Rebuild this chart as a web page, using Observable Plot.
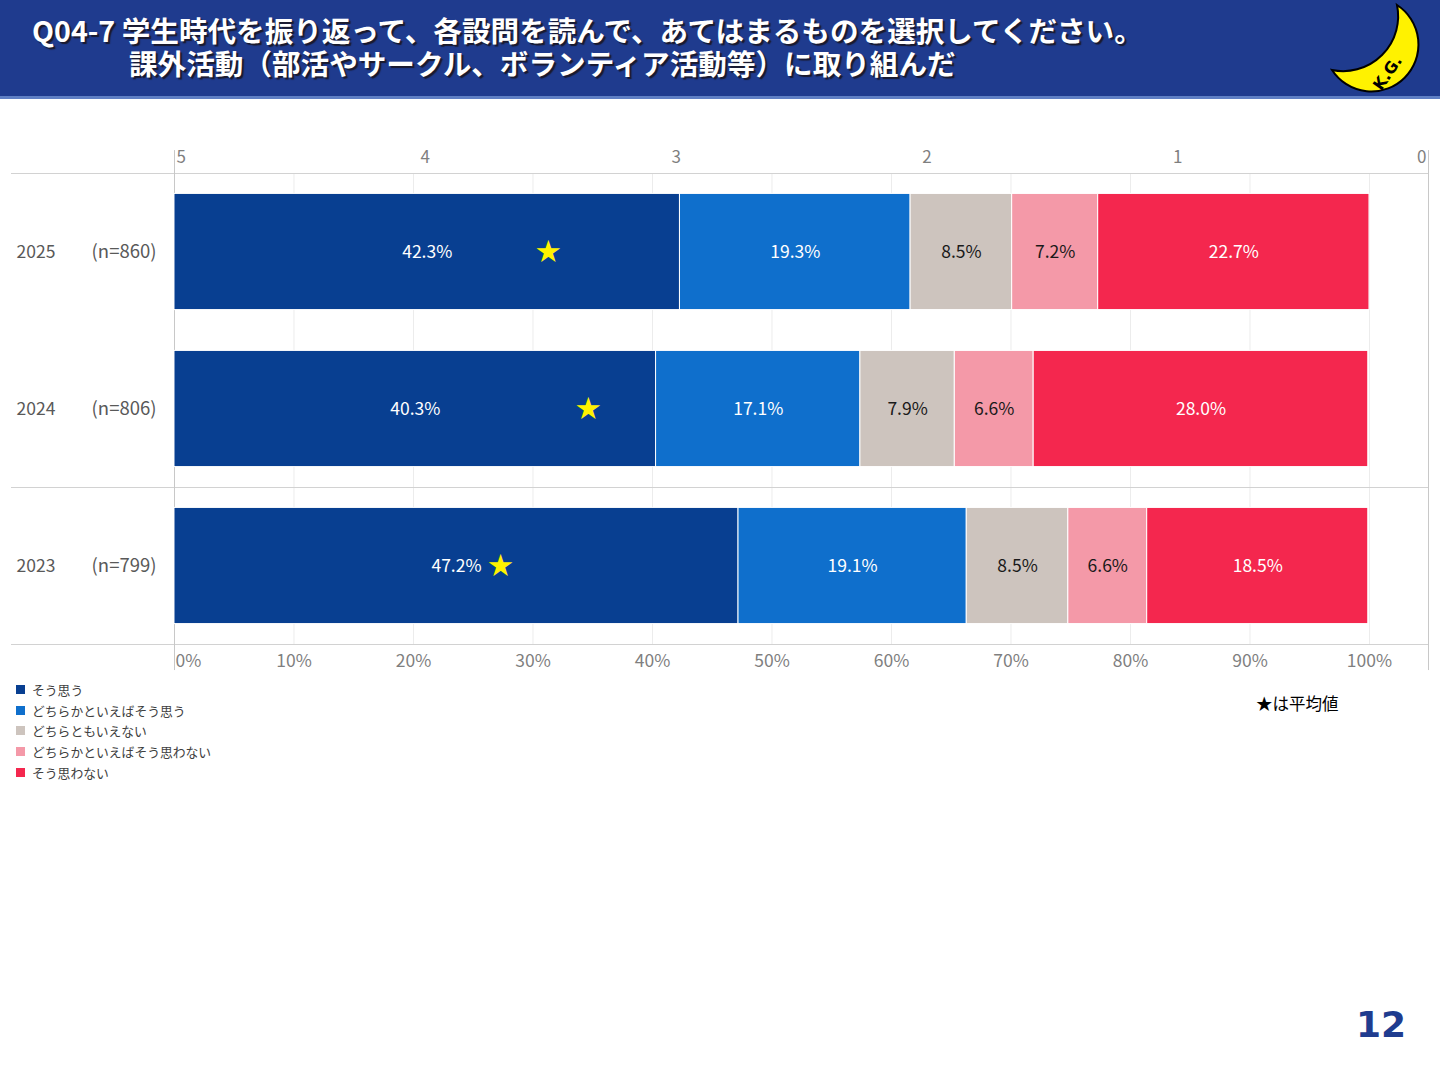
<!DOCTYPE html>
<html lang="ja">
<head>
<meta charset="utf-8">
<script src="https://cdn.jsdelivr.net/npm/d3@7"></script>
<script src="https://cdn.jsdelivr.net/npm/@observablehq/plot@0.6"></script>
<style>
  html, body { margin: 0; padding: 0; background: #fff; }
  #page { position: relative; width: 1440px; height: 1080px; overflow: hidden; background: #fff;
          font-family: "Noto Sans CJK JP", "Noto Sans", sans-serif; }
  #header { position: absolute; left: 0; top: 0; width: 1440px; height: 96px; background: #1F3B8E;
            border-bottom: 3px solid #5f7fc4; }
  .title { position: absolute; color: #fff; font-weight: 700; font-size: 28.6px; white-space: nowrap;
           text-shadow: 2px 2px 1px #1a1a2e; line-height: 32px; }
  #chart { position: absolute; left: 0; top: 110px; }
  #legend { position: absolute; left: 16px; top: 679px; font-size: 12.8px; color: #404040; }
  .li { display: flex; align-items: center; height: 20.8px; }
  .sw { width: 9px; height: 9px; margin-right: 7px; }
  #note { position: absolute; left: 1256px; top: 691px; font-size: 16.5px; color: #000; }
  #pageno { position: absolute; left: 1356px; top: 1004px; font-size: 36px; font-weight: 700; color: #1F3C8F;
            font-family: "DejaVu Sans", sans-serif; }
  #logo { position: absolute; left: 1300px; top: 0; }
</style>
</head>
<body>
<div id="page">
  <div id="header">
    <div class="title" style="left:32px; top:14px;">Q04-7 学生時代を振り返って、各設問を読んで、あてはまるものを選択してください。</div>
    <div class="title" style="left:129px; top:47px;">課外活動（部活やサークル、ボランティア活動等）に取り組んだ</div>
    <svg id="logo" width="140" height="98" viewBox="1300 0 140 98">
      <path d="M1397 5 A47 47 0 1 1 1332 70 A55 55 0 0 0 1397 5 Z" fill="#FFF200" stroke="#000" stroke-width="2"/>
      <text x="1392" y="76" transform="rotate(-55 1392 76)" font-family="DejaVu Sans, sans-serif" font-size="16" font-weight="700" fill="#000" text-anchor="middle">K.G.</text>
    </svg>
  </div>
  <div id="chart"></div>
  <div id="legend"></div>
  <div id="note">★は平均値</div>
  <div id="pageno">12</div>
</div>
<script>
// ---- data ----
const years = ["2025", "2024", "2023"];
const sampleSizes = ["(n=860)", "(n=806)", "(n=799)"];
const categories = ["そう思う", "どちらかといえばそう思う", "どちらともいえない", "どちらかといえばそう思わない", "そう思わない"];
const colors = ["#083F91", "#0F6FCC", "#CDC4BE", "#F499A8", "#F4274E"];
const darkLabelCategories = ["どちらともいえない", "どちらかといえばそう思わない"];
const values2025 = [42.3, 19.3, 8.5, 7.2, 22.7];
const values2024 = [40.3, 17.1, 7.9, 6.6, 28.0];
const values2023 = [47.2, 19.1, 8.5, 6.6, 18.5];
const averages = [3.51, 3.35, 3.70];
const percentTicks = [0, 10, 20, 30, 40, 50, 60, 70, 80, 90, 100];
const scoreTicks = [5, 4, 3, 2, 1, 0];

// ---- build table ----
const seriesByYear = [values2025, values2024, values2023];
const segments = [];
seriesByYear.forEach((vals, row) => {
  let acc = 0;
  vals.forEach((v, j) => {
    segments.push({row, year: years[row], cat: categories[j], value: v, x1: acc, x2: acc + v});
    acc += v;
  });
});
const rows = years.map((y, i) => ({row: i, year: y, n: sampleSizes[i], avg: averages[i]}));

const XMIN = -13.64, XMAX = 104.94;   // percent scale extent (frame incl. label area)
const scoreToX = s => (5 - s) / 5 * XMAX; // secondary 5..0 axis spans the plot width
const PAD = 0.13;
const font = "Noto Sans CJK JP, Noto Sans, sans-serif";

const chart = Plot.plot({
  width: 1440,
  height: 570,
  marginLeft: 11,
  marginRight: 12,
  marginTop: 63,
  marginBottom: 36,
  style: {fontFamily: font, background: "transparent"},
  x: {domain: [XMIN, XMAX], axis: null},
  y: {domain: [3, 0], axis: null},
  color: {domain: categories, range: colors},
  marks: [
    Plot.ruleX(percentTicks.slice(1), {y1: 0, y2: 3, stroke: "#ececec", strokeWidth: 1}),
    Plot.ruleY([0, 2, 3], {stroke: "#d2d2d2", strokeWidth: 1}),
    Plot.ruleX([0, XMAX], {y1: -0.146, y2: 3.166, stroke: "#c8c8c8", strokeWidth: 1}),
    Plot.rectX(segments, {
      x1: "x1", x2: "x2",
      y1: d => d.row + PAD, y2: d => d.row + 1 - PAD,
      fill: "cat", stroke: "#fff", strokeWidth: 1
    }),
    Plot.text(segments.filter(d => !darkLabelCategories.includes(d.cat)), {
      x: d => (d.x1 + d.x2) / 2, y: d => d.row + 0.5,
      text: d => d.value.toFixed(1) + "%", fill: "#fff", fontSize: 17.5
    }),
    Plot.text(segments.filter(d => darkLabelCategories.includes(d.cat)), {
      x: d => (d.x1 + d.x2) / 2, y: d => d.row + 0.5,
      text: d => d.value.toFixed(1) + "%", fill: "#1a1a1a", fontSize: 17.5
    }),
    Plot.text(rows, {
      x: d => scoreToX(d.avg), y: d => d.row + 0.5,
      text: () => "★", fill: "#FFF200", fontSize: 25
    }),
    Plot.text(rows, {
      y: d => d.row + 0.5, frameAnchor: "left", dx: 5, textAnchor: "start",
      text: "year", fill: "#595959", fontSize: 17.5
    }),
    Plot.text(rows, {
      x: 0, y: d => d.row + 0.5, dx: -18, textAnchor: "end",
      text: "n", fill: "#595959", fontSize: 18.5
    }),
    Plot.text(scoreTicks.filter(s => s === 5), {
      x: s => scoreToX(s), frameAnchor: "top", lineAnchor: "middle", dy: -16, dx: 2, textAnchor: "start",
      text: s => String(s), fill: "#7f7f7f", fontSize: 17
    }),
    Plot.text(scoreTicks.filter(s => s !== 5 && s !== 0), {
      x: s => scoreToX(s), frameAnchor: "top", lineAnchor: "middle", dy: -16,
      text: s => String(s), fill: "#7f7f7f", fontSize: 17
    }),
    Plot.text(scoreTicks.filter(s => s === 0), {
      x: s => scoreToX(s), frameAnchor: "top", lineAnchor: "middle", dy: -16, dx: -2, textAnchor: "end",
      text: s => String(s), fill: "#7f7f7f", fontSize: 17
    }),
    Plot.text(percentTicks.filter(t => t === 0), {
      x: t => t, frameAnchor: "bottom", lineAnchor: "middle", dy: 17, dx: 1, textAnchor: "start",
      text: t => t + "%", fill: "#7f7f7f", fontSize: 17.5
    }),
    Plot.text(percentTicks.filter(t => t !== 0), {
      x: t => t, frameAnchor: "bottom", lineAnchor: "middle", dy: 17,
      text: t => t + "%", fill: "#7f7f7f", fontSize: 17.5
    })
  ]
});
document.getElementById("chart").appendChild(chart);

// ---- legend ----
const legend = document.getElementById("legend");
categories.forEach((c, i) => {
  const item = document.createElement("div");
  item.className = "li";
  const sw = document.createElement("span");
  sw.className = "sw";
  sw.style.background = colors[i];
  const tx = document.createElement("span");
  tx.textContent = c;
  item.appendChild(sw);
  item.appendChild(tx);
  legend.appendChild(item);
});
</script>
</body>
</html>
